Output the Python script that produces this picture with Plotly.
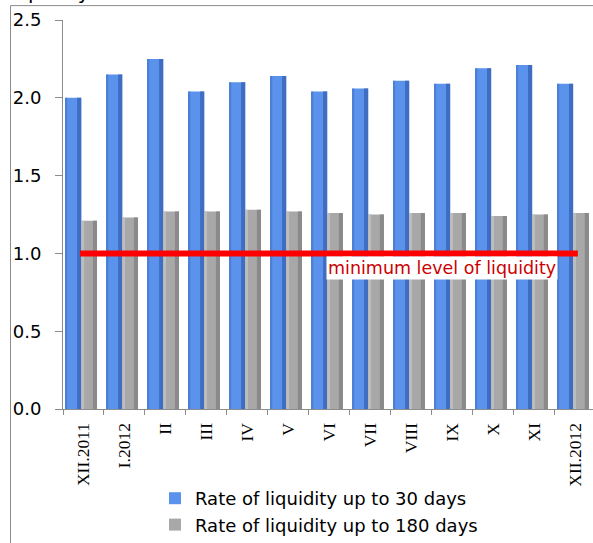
import plotly.graph_objects as go

# Monthly liquidity ratios of the banking sector
months = ["XII.2011", "I.2012", "II", "III", "IV", "V", "VI",
          "VII", "VIII", "IX", "X", "XI", "XII.2012"]
rate_30 = [2.00, 2.15, 2.25, 2.04, 2.10, 2.14, 2.04, 2.06, 2.11, 2.09, 2.19, 2.21, 2.09]
rate_180 = [1.21, 1.23, 1.27, 1.27, 1.28, 1.27, 1.26, 1.25, 1.26, 1.26, 1.24, 1.25, 1.26]
min_level = 1.0

series_30 = "Rate of liquidity up to 30 days"
series_180 = "Rate of liquidity up to 180 days"

W, H = 593, 543
M_L, M_R, M_T, M_B = 63, 0, 20, 131
plot_w = W - M_L - M_R
plot_h = H - M_T - M_B


def px_x(px):
    return (px - M_L) / plot_w


def px_y(py):
    return (H - M_B - py) / plot_h


BLUE = "#5B92EC"
BLUE_EDGE_L = "#4C7FD6"
BLUE_EDGE_R = "#3E6DC2"
GREY = "#A8A8A8"
GREY_EDGE_L = "#BDBDBD"
GREY_EDGE_R = "#8A8A8A"

B_OFF, B_W = -0.43, 0.375
G_OFF, G_W = -0.055, 0.385

fig = go.Figure()

# main bodies (legend entries)
fig.add_trace(go.Bar(x=months, y=rate_30, name=series_30, offset=B_OFF, width=B_W,
                     marker=dict(color=BLUE, line=dict(width=0))))
fig.add_trace(go.Bar(x=months, y=rate_180, name=series_180, offset=G_OFF, width=G_W,
                     marker=dict(color=GREY, line=dict(width=0))))

# cylinder shading strips on the bar edges
shade = [
    (rate_30, B_OFF, 0.035, BLUE_EDGE_L),
    (rate_30, B_OFF + B_W - 0.1, 0.1, BLUE_EDGE_R),
    (rate_180, G_OFF, 0.07, GREY_EDGE_L),
    (rate_180, G_OFF + G_W - 0.1, 0.1, GREY_EDGE_R),
]
for vals, off, wd, col in shade:
    fig.add_trace(go.Bar(x=months, y=vals, offset=off, width=wd, showlegend=False,
                         hoverinfo="skip", marker=dict(color=col, line=dict(width=0))))

# minimum required liquidity level
fig.add_shape(type="line", xref="x", yref="y", x0=-0.085, x1=12.06,
              y0=min_level, y1=min_level, line=dict(color="#FF0000", width=6))
fig.add_annotation(x=8.74, y=min_level, xref="x", yref="y", yshift=-15,
                   text="minimum level of liquidity", showarrow=False,
                   xanchor="center", yanchor="middle", bgcolor="white", borderpad=1,
                   font=dict(family="DejaVu Sans", size=17.5, color="#CC0000"))

# outer frame of the chart area
frame = dict(color="#8C8C8C", width=1)
fig.add_shape(type="line", xref="paper", yref="paper",
              x0=px_x(10.5), x1=px_x(10.5), y0=px_y(560), y1=px_y(5.5), line=frame)
fig.add_shape(type="line", xref="paper", yref="paper",
              x0=px_x(10.5), x1=px_x(610), y0=px_y(5.5), y1=px_y(5.5), line=frame)

# heading above the frame
fig.add_annotation(x=px_x(2), y=px_y(-8), xref="paper", yref="paper",
                   text="Liquidity", showarrow=False, xanchor="left", yanchor="middle",
                   font=dict(family="DejaVu Sans", size=20, color="black"))

fig.update_layout(
    width=W, height=H,
    margin=dict(l=M_L, r=M_R, t=M_T, b=M_B, pad=0),
    paper_bgcolor="white", plot_bgcolor="white",
    barmode="overlay",
    showlegend=True,
    legend=dict(x=px_x(155), y=px_y(484), xanchor="left", yanchor="top",
                bgcolor="rgba(0,0,0,0)", traceorder="normal", tracegroupgap=0,
                font=dict(family="DejaVu Sans", size=18, color="black")),
    xaxis=dict(type="category", range=[-0.5, 12.43], showgrid=False,
               showline=True, linecolor="#8C8C8C", linewidth=1,
               ticks="outside", tickson="boundaries", ticklen=5, tickcolor="#8C8C8C",
               tickangle=-90, ticklabelstandoff=6,
               tickfont=dict(family="Liberation Serif", size=17.5, color="black")),
    yaxis=dict(range=[0, 2.5], tickvals=[0, 0.5, 1.0, 1.5, 2.0, 2.5],
               ticktext=["0.0", "0.5", "1.0", "1.5", "2.0", "2.5"],
               showgrid=False, zeroline=False,
               showline=True, linecolor="#8C8C8C", linewidth=1,
               ticks="outside", ticklen=7, tickcolor="#8C8C8C", ticklabelstandoff=10,
               tickfont=dict(family="DejaVu Sans", size=18, color="black")),
)

fig.write_html("out.html", config={"displayModeBar": False})
